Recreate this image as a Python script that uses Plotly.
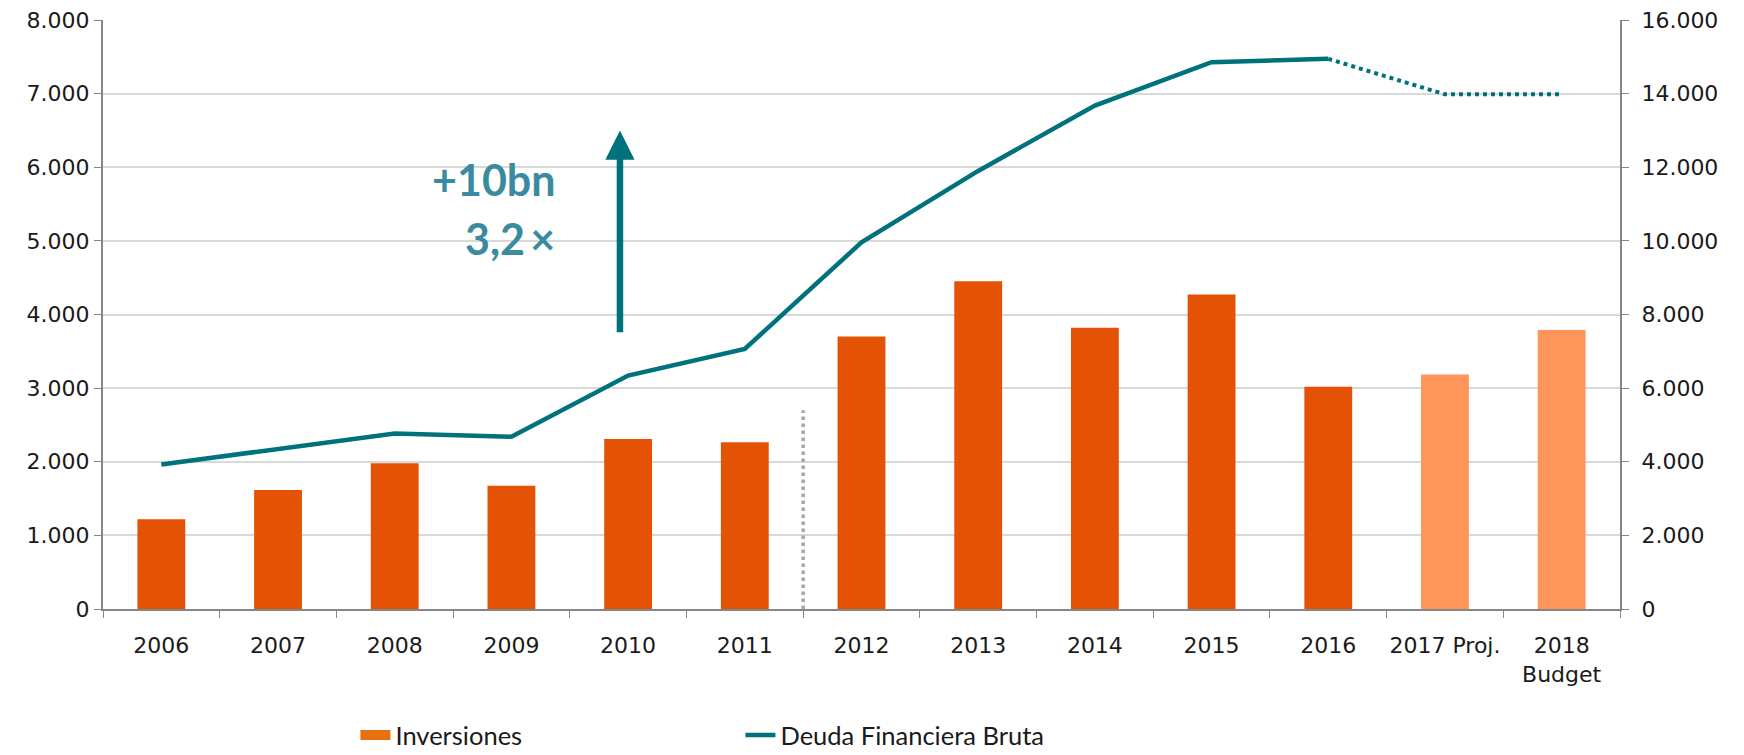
import plotly.graph_objects as go

categories = ["2006", "2007", "2008", "2009", "2010", "2011", "2012", "2013",
              "2014", "2015", "2016", "2017 Proj.", "2018<br>Budget"]
inversiones = [1220, 1615, 1980, 1675, 2310, 2265, 3700, 4450, 3820, 4270, 3020, 3185, 3790]
deuda = [3925, 4350, 4770, 4680, 6340, 7065, 9960, 11900, 13675, 14855, 14945, 13980, 13980]
bar_colors = ["#E35205"] * 11 + ["#FF9559"] * 2
n_actual = 11  # 2006..2016 actual; 2017-2018 projected

LINE_COLOR = "#00727C"
TEXT_COLOR = "#3A8BA0"
LEGEND_BAR_COLOR = "#E8700E"

fig = go.Figure()
fig.add_trace(go.Bar(
    x=categories, y=inversiones, name="Inversiones", showlegend=False,
    marker=dict(color=bar_colors, line=dict(width=0)),
    yaxis="y",
))
# legend swatch for the bar series (wide rectangle like the reference)
fig.add_trace(go.Scatter(
    x=[None], y=[None], name="Inversiones", mode="lines",
    line=dict(color=LEGEND_BAR_COLOR, width=15), yaxis="y",
))
fig.add_trace(go.Scatter(
    x=categories[:n_actual], y=deuda[:n_actual], name="Deuda Financiera Bruta",
    mode="lines", line=dict(color=LINE_COLOR, width=4.5), yaxis="y2",
))
fig.add_trace(go.Scatter(
    x=categories[n_actual - 1:], y=deuda[n_actual - 1:], showlegend=False,
    mode="lines", line=dict(color=LINE_COLOR, width=4, dash="dot"), yaxis="y2",
))

# separator between 2011 and 2012
sep_x = 5.5
sep_top = 2700
fig.add_shape(type="line", xref="x", yref="y", x0=sep_x, x1=sep_x, y0=0, y1=sep_top,
              line=dict(color="#A6A6A6", width=3.5, dash="dot"), layer="above")

# arrow
arrow_x = 3.93
arrow_y0 = 3740
arrow_y1 = 6500
fig.add_annotation(x=arrow_x, y=arrow_y1, ax=arrow_x, ay=arrow_y0, xref="x", yref="y",
                   axref="x", ayref="y", showarrow=True, arrowhead=2, arrowsize=0.9,
                   arrowwidth=6.5, arrowcolor=LINE_COLOR, text="")
fig.add_annotation(x=3.39, y=5830, xref="x", yref="y", text="<b>+10bn</b>", showarrow=False,
                   xanchor="right", yanchor="middle",
                   font=dict(family="Lato", size=43, color=TEXT_COLOR))
fig.add_annotation(x=3.39, y=5030, xref="x", yref="y", text="<b>3,2\u2009×</b>", showarrow=False,
                   xanchor="right", yanchor="middle",
                   font=dict(family="Lato", size=43, color=TEXT_COLOR))

axis_font = dict(family="DejaVu Sans", size=22, color="#1a1a1a")
fig.update_layout(
    width=1736, height=747,
    margin=dict(l=95, r=124, t=12, b=146, autoexpand=False),
    paper_bgcolor="white", plot_bgcolor="white",
    separators=",.",
    bargap=0.59,
    showlegend=True,
    legend=dict(orientation="h", x=0.1664, xanchor="left",
                yref="paper", y=-0.2146, yanchor="middle",
                font=dict(family="Lato", size=25.5, color="#1a1a1a"),
                entrywidth=340, entrywidthmode="pixels",
                bgcolor="rgba(0,0,0,0)"),
    xaxis=dict(type="category", categoryorder="array", categoryarray=categories,
               showline=True, linecolor="#868686", linewidth=2,
               ticks="outside", tickson="boundaries", ticklen=7, tickcolor="#868686",
               ticklabelstandoff=16, tickangle=0, automargin=False,
               tickfont=axis_font, showgrid=False),
    yaxis=dict(range=[0, 8000], dtick=1000, tickformat=",d",
               showline=True, linecolor="#868686", linewidth=2,
               ticks="outside", ticklen=7, tickcolor="#868686",
               ticklabeloverflow="allow", automargin=False,
               showgrid=True, gridcolor="#D9D9D9", gridwidth=2,
               tickfont=axis_font, zeroline=False),
    yaxis2=dict(range=[0, 16000], dtick=2000, tickformat=",d", overlaying="y", side="right",
                showline=True, linecolor="#868686", linewidth=2,
                ticks="outside", ticklen=7, tickcolor="#868686",
                ticklabelstandoff=8, ticklabeloverflow="allow", automargin=False,
                showgrid=False, tickfont=axis_font, zeroline=False),
)

fig.write_html("out.html")
